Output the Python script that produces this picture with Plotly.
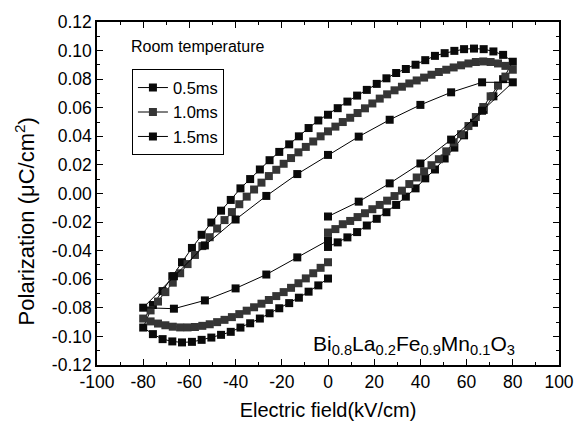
import plotly.graph_objects as go

# ---------------- data ----------------
x_tick_vals = [-100, -80, -60, -40, -20, 0, 20, 40, 60, 80, 100]
x_tick_text = ["-100", "-80", "-60", "-40", "-20", "0", "20", "40", "60", "80", "100"]
x_minor_vals = [-90, -70, -50, -30, -10, 10, 30, 50, 70, 90]
y_tick_vals = [-0.12, -0.10, -0.08, -0.06, -0.04, -0.02, 0.0, 0.02, 0.04, 0.06, 0.08, 0.10, 0.12]
y_tick_text = ["-0.12", "-0.10", "-0.08", "-0.06", "-0.04", "-0.02", "0.00",
               "0.02", "0.04", "0.06", "0.08", "0.10", "0.12"]
y_minor_vals = [-0.11, -0.09, -0.07, -0.05, -0.03, -0.01, 0.01, 0.03, 0.05, 0.07, 0.09, 0.11]

series_names = ["0.5ms", "1.0ms", "1.5ms"]

# 0.5 ms : rising branch (0 -> 80), upper branch (80 -> -80), lower branch (-80 -> 0)
s1_rise_E = [0, 4.2, 8.4, 12.6, 16.8, 21.1, 25.3, 29.5, 33.7, 37.9, 42.1, 46.3, 50.5,
             54.7, 58.9, 63.2, 67.4, 71.6, 75.8, 80]
s1_rise_P = [-0.0374, -0.0342, -0.0307, -0.0270, -0.0224, -0.0177, -0.0131, -0.0080,
             -0.0022, 0.0036, 0.0106, 0.0168, 0.0245, 0.0321, 0.0407, 0.0495, 0.0585,
             0.0680, 0.0800, 0.0922]
s1_upper_E = [75.8, 71.6, 67.4, 63.2, 58.9, 54.7, 50.5, 46.3, 42.1, 37.9, 33.7, 29.5,
              25.3, 21.1, 16.8, 12.6, 8.4, 4.2, 0, -4.2, -8.4, -12.6, -16.8, -21.1,
              -25.3, -29.5, -33.7, -37.9, -42.1, -46.3, -50.5, -54.7, -58.9, -63.2,
              -67.4, -71.6, -75.8, -80]
s1_upper_P = [0.0970, 0.0994, 0.1010, 0.1014, 0.1010, 0.0998, 0.0982, 0.0963, 0.0933,
              0.0901, 0.0871, 0.0843, 0.0806, 0.0767, 0.0725, 0.0685, 0.0643, 0.0597,
              0.0551, 0.0511, 0.0458, 0.0400, 0.0344, 0.0291, 0.0233, 0.0168, 0.0101,
              0.0036, -0.0045, -0.0120, -0.0203, -0.0289, -0.0381, -0.0481, -0.0579,
              -0.0683, -0.0780, -0.0938]
s1_lower_E = [-75.8, -71.6, -67.4, -63.2, -58.9, -54.7, -50.5, -46.3, -42.1, -37.9,
              -33.7, -29.5, -25.3, -21.1, -16.8, -12.6, -8.4, -4.2, 0]
s1_lower_P = [-0.0984, -0.1019, -0.1035, -0.1042, -0.1038, -0.1024, -0.1008, -0.0989,
              -0.0968, -0.0938, -0.0908, -0.0875, -0.0838, -0.0803, -0.0767, -0.0729,
              -0.0687, -0.0643, -0.0595]

# 1.0 ms
s2_rise_E = [0, 3.2, 6.4, 9.6, 12.8, 16, 19.2, 22.4, 25.6, 28.8, 32, 35.2, 38.4, 41.6,
             44.8, 48, 51.2, 54.4, 57.6, 60.8, 64, 67.2, 70.4, 73.6, 76.8, 80]
s2_rise_P = [-0.0273, -0.0249, -0.0215, -0.0192, -0.0165, -0.0138, -0.0110, -0.0080,
             -0.0050, -0.0018, 0.0020, 0.0066, 0.0112, 0.0155, 0.0198, 0.0240, 0.0295,
             0.0358, 0.0415, 0.0472, 0.0535, 0.0605, 0.0680, 0.0755, 0.0818, 0.0866]
s2_upper_E = [76.8, 73.6, 70.4, 67.2, 64, 60.8, 57.6, 54.4, 51.2, 48, 44.8, 41.6, 38.4,
              35.2, 32, 28.8, 25.6, 22.4, 19.2, 16, 12.8, 9.6, 6.4, 3.2, 0, -3.2, -6.4,
              -9.6, -12.8, -16, -19.2, -22.4, -25.6, -28.8, -32, -35.2, -38.4, -41.6,
              -44.8, -48, -51.2, -54.4, -57.6, -60.8, -64, -67.2, -70.4, -73.6, -76.8, -80]
s2_upper_P = [0.0893, 0.0910, 0.0920, 0.0924, 0.0920, 0.0910, 0.0897, 0.0882, 0.0866,
              0.0850, 0.0831, 0.0811, 0.0791, 0.0770, 0.0747, 0.0722, 0.0694, 0.0664,
              0.0630, 0.0596, 0.0563, 0.0530, 0.0500, 0.0468, 0.0435, 0.0400, 0.0364,
              0.0326, 0.0288, 0.0248, 0.0208, 0.0166, 0.0122, 0.0076, 0.0028, -0.0022,
              -0.0075, -0.0130, -0.0186, -0.0245, -0.0306, -0.0368, -0.0430, -0.0494,
              -0.0558, -0.0624, -0.0690, -0.0756, -0.0818, -0.0875]
s2_lower_E = [-76.8, -73.6, -70.4, -67.2, -64, -60.8, -57.6, -54.4, -51.2, -48, -44.8,
              -41.6, -38.4, -35.2, -32, -28.8, -25.6, -22.4, -19.2, -16, -12.8, -9.6,
              -6.4, -3.2, 0]
s2_lower_P = [-0.0895, -0.0910, -0.0922, -0.0932, -0.0937, -0.0937, -0.0934, -0.0926,
              -0.0915, -0.0900, -0.0884, -0.0865, -0.0844, -0.0820, -0.0796, -0.0771,
              -0.0745, -0.0718, -0.0690, -0.0660, -0.0628, -0.0594, -0.0558, -0.0520,
              -0.0481]

# 1.5 ms
s3_rise_E = [0, 13.3, 26.7, 40, 53.3, 66.7, 80]
s3_rise_P = [-0.0161, -0.0057, 0.0071, 0.0210, 0.0377, 0.0579, 0.0778]
s3_upper_E = [66.7, 53.3, 40, 26.7, 13.3, 0, -13.3, -26.7, -40, -53.3, -66.7, -80]
s3_upper_P = [0.0778, 0.0708, 0.0620, 0.0516, 0.0398, 0.0270, 0.0136, -0.0017,
              -0.0182, -0.0363, -0.0579, -0.0799]
s3_lower_E = [-66.7, -53.3, -40, -26.7, -13.3, 0]
s3_lower_P = [-0.0806, -0.0748, -0.0664, -0.0567, -0.0447, -0.0328]

# ---------------- figure ----------------
FONT = "Liberation Sans, Arial, Helvetica, sans-serif"
series = [
    (s1_rise_E + s1_upper_E + s1_lower_E, s1_rise_P + s1_upper_P + s1_lower_P, "#0a0a0a"),
    (s2_rise_E + s2_upper_E + s2_lower_E, s2_rise_P + s2_upper_P + s2_lower_P, "#353535"),
    (s3_rise_E + s3_upper_E + s3_lower_E, s3_rise_P + s3_upper_P + s3_lower_P, "#0a0a0a"),
]

fig = go.Figure()
for name, (xs, ys, col) in zip(series_names, series):
    fig.add_trace(go.Scatter(
        x=xs, y=ys, name=name, mode="lines+markers",
        line=dict(color="#000000", width=1),
        marker=dict(symbol="square", size=8, color=col, line=dict(width=0)),
    ))

fig.update_layout(
    width=586, height=430, autosize=False,
    margin=dict(l=97, r=17, t=21, b=64),
    paper_bgcolor="white", plot_bgcolor="white",
    font=dict(family=FONT, size=16, color="black"),
    showlegend=True,
    legend=dict(x=0.0756, y=0.862, xanchor="left", yanchor="top",
                bordercolor="black", borderwidth=1, bgcolor="white",
                font=dict(size=16.5), tracegroupgap=0, itemwidth=30),
)

fig.update_xaxes(
    range=[-100, 100], tickmode="array", tickvals=x_tick_vals, ticktext=x_tick_text,
    ticks="inside", ticklen=6, tickwidth=1.2, tickcolor="black",
    showline=True, linewidth=1.5, linecolor="black", mirror="allticks",
    showgrid=False, zeroline=False,
    minor=dict(tickmode="array", tickvals=x_minor_vals, ticks="inside", ticklen=3.5,
               tickwidth=1, tickcolor="black", showgrid=False),
    tickfont=dict(size=17.5),
    title=dict(text="Electric field(kV/cm)", font=dict(size=20), standoff=12),
)
fig.update_yaxes(
    range=[-0.12, 0.12], tickmode="array", tickvals=y_tick_vals, ticktext=y_tick_text,
    ticks="inside", ticklen=6, tickwidth=1.2, tickcolor="black",
    showline=True, linewidth=1.5, linecolor="black", mirror="allticks",
    showgrid=False, zeroline=False,
    minor=dict(tickmode="array", tickvals=y_minor_vals, ticks="inside", ticklen=3.5,
               tickwidth=1, tickcolor="black", showgrid=False),
    tickfont=dict(size=17.5),
)

fig.add_annotation(text="Polarization (μC/cm<sup>2</sup>)", xref="paper", yref="paper",
                   x=-0.157, y=0.42, xanchor="center", yanchor="middle", textangle=-90,
                   showarrow=False, font=dict(size=22))
fig.add_annotation(text="Room temperature", xref="paper", yref="paper",
                   x=0.07, y=0.9275, xanchor="left", yanchor="middle",
                   showarrow=False, font=dict(size=16))
fig.add_annotation(text="Bi<sub>0.8</sub>La<sub>0.2</sub>Fe<sub>0.9</sub>Mn<sub>0.1</sub>O<sub>3</sub>",
                   xref="paper", yref="paper", x=0.91, y=0.015,
                   xanchor="right", yanchor="bottom", showarrow=False,
                   font=dict(size=21))

fig.write_html(
    "out.html",
    config={"displayModeBar": False, "responsive": False},
    post_script=("document.body.style.margin='0';"
                 "document.body.style.overflow='hidden';"
                 "document.documentElement.style.overflow='hidden';"),
)
